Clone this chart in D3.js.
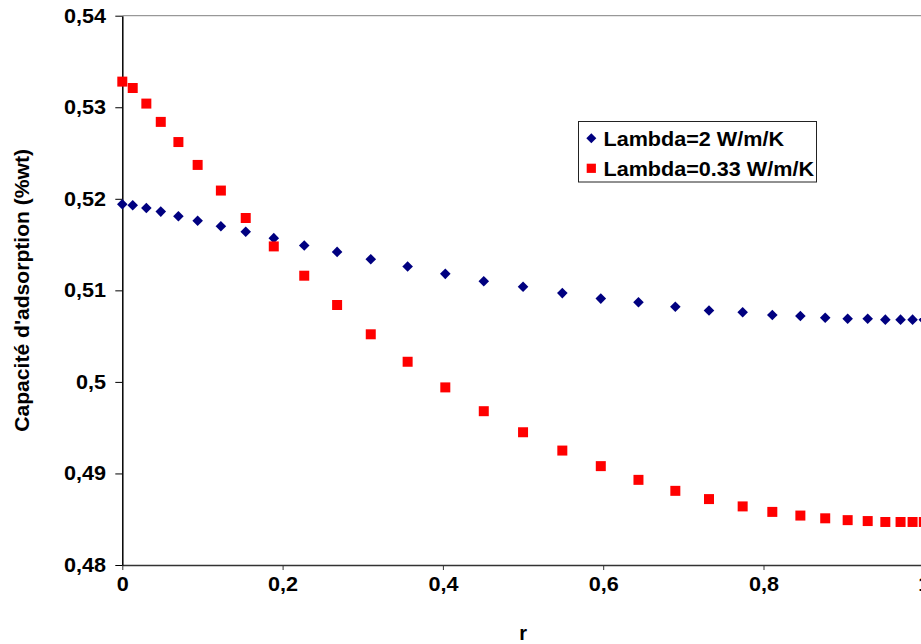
<!DOCTYPE html>
<html>
<head>
<meta charset="utf-8">
<script src="https://cdn.jsdelivr.net/npm/d3@7/dist/d3.min.js"></script>
<style>
  html, body { margin: 0; padding: 0; background: #fff; overflow: hidden; }
  svg { display: block; }
  text { font-family: "Liberation Sans", Arial, sans-serif; font-weight: bold; fill: #000; }
</style>
</head>
<body>
<svg id="chart" width="921" height="644"></svg>
<script>
// ---- Data ----
const rValues = [0, 0.013, 0.03, 0.048, 0.07, 0.094, 0.123, 0.154, 0.189, 0.227, 0.268, 0.31, 0.356, 0.403, 0.451, 0.5, 0.549, 0.597, 0.644, 0.69, 0.732, 0.774, 0.811, 0.846, 0.877, 0.905, 0.93, 0.952, 0.971, 0.986, 1.0];
const lambda2 = [0.5194, 0.5193, 0.5190, 0.5186, 0.5181, 0.5176, 0.5170, 0.5164, 0.5157, 0.5149, 0.5142, 0.5134, 0.5126, 0.5118, 0.5110, 0.5104, 0.5097, 0.5091, 0.5087, 0.5082, 0.5078, 0.5076, 0.5073, 0.5072, 0.5070, 0.5069, 0.5069, 0.5068, 0.5068, 0.5068, 0.5068];
const lambda033 = [0.5328, 0.5321, 0.5304, 0.5284, 0.5262, 0.5237, 0.5209, 0.5179, 0.5148, 0.5116, 0.5084, 0.5052, 0.5022, 0.4994, 0.4968, 0.4945, 0.4925, 0.4908, 0.4893, 0.4881, 0.4872, 0.4864, 0.4858, 0.4854, 0.4851, 0.4849, 0.4848, 0.4847, 0.4847, 0.4847, 0.4847];
const seriesNames = ["Lambda=2 W/m/K", "Lambda=0.33 W/m/K"];
const xTicks = [0, 0.2, 0.4, 0.6, 0.8, 1];
const yTicks = [0.48, 0.49, 0.50, 0.51, 0.52, 0.53, 0.54];
const xTitle = "r";
const yTitle = "Capacité d'adsorption (%wt)";

// ---- Layout ----
const svg = d3.select("#chart");
const x = d3.scaleLinear().domain([0, 1]).range([122.3, 923.8]);
const y = d3.scaleLinear().domain([0.48, 0.54]).range([565, 15.7]);
const fmt = v => String(+v.toFixed(2)).replace(".", ",");
const STRETCH = 1.08;

// plot area border (top & right)
svg.append("line").attr("x1", x(0)).attr("x2", x(1)).attr("y1", y(0.54)).attr("y2", y(0.54))
  .attr("stroke", "#808080").attr("stroke-width", 1);
svg.append("line").attr("x1", x(1)).attr("x2", x(1)).attr("y1", y(0.54)).attr("y2", y(0.48))
  .attr("stroke", "#808080").attr("stroke-width", 1);

// axes
const xAxis = svg.append("g").attr("transform", `translate(0,${y(0.48)})`)
  .call(d3.axisBottom(x).tickValues(xTicks).tickFormat(fmt).tickSizeInner(5).tickSizeOuter(0).tickPadding(7));
xAxis.select(".domain").attr("stroke", "#333").attr("stroke-width", 1.3);
xAxis.selectAll(".tick line").attr("stroke", "#333");
xAxis.selectAll("text").attr("font-size", 20).attr("fill", "#000").attr("transform", `scale(${STRETCH},1)`);

const yAxis = svg.append("g").attr("transform", `translate(${x(0)},0)`)
  .call(d3.axisLeft(y).tickValues(yTicks).tickFormat(fmt).tickSizeInner(7).tickSizeOuter(0).tickPadding(8));
yAxis.select(".domain").attr("stroke", "#000").attr("stroke-width", 1.5);
yAxis.selectAll(".tick line").attr("stroke", "#000");
yAxis.selectAll("text").attr("font-size", 20).attr("fill", "#000").attr("transform", `scale(${STRETCH},1)`);
svg.selectAll(".tick text").style("font-family", '"Liberation Sans", Arial, sans-serif').style("font-weight", "bold");

// titles
svg.append("text").attr("x", (x(0) + x(1)) / 2).attr("y", 640).attr("text-anchor", "middle")
  .attr("font-size", 20).text(xTitle);
svg.append("text").attr("transform", `translate(29,${(y(0.48) + y(0.54)) / 2}) rotate(-90) scale(1.03,1)`)
  .attr("text-anchor", "middle").attr("font-size", 20.5).text(yTitle);

// markers
const diamond = d3.symbol().type(d3.symbolSquare).size(56);
const square = d3.symbol().type(d3.symbolSquare).size(100);

const data1 = rValues.map((r, i) => ({ r, v: lambda2[i] }));
const data2 = rValues.map((r, i) => ({ r, v: lambda033[i] }));

svg.append("g").selectAll("path").data(data1).join("path")
  .attr("d", diamond)
  .attr("transform", d => `translate(${x(d.r)},${y(d.v)}) rotate(45)`)
  .attr("fill", "#000080");

svg.append("g").selectAll("path").data(data2).join("path")
  .attr("d", square)
  .attr("transform", d => `translate(${x(d.r)},${y(d.v)})`)
  .attr("fill", "#ff0000");

// legend
const lg = svg.append("g");
lg.append("rect").attr("x", 578.5).attr("y", 121.5).attr("width", 238).attr("height", 60.5)
  .attr("fill", "#fff").attr("stroke", "#222").attr("stroke-width", 1);
lg.append("path").attr("d", d3.symbol().type(d3.symbolSquare).size(50))
  .attr("transform", "translate(591.3,138.3) rotate(45)").attr("fill", "#000080");
lg.append("path").attr("d", d3.symbol().type(d3.symbolSquare).size(85))
  .attr("transform", "translate(591.3,168.3)").attr("fill", "#ff0000");
lg.append("text").attr("transform", `translate(603.5,145.5) scale(${STRETCH},1)`).attr("font-size", 20).text(seriesNames[0]);
lg.append("text").attr("transform", `translate(603.5,175.5) scale(${STRETCH},1)`).attr("font-size", 20).text(seriesNames[1]);
</script>
</body>
</html>
